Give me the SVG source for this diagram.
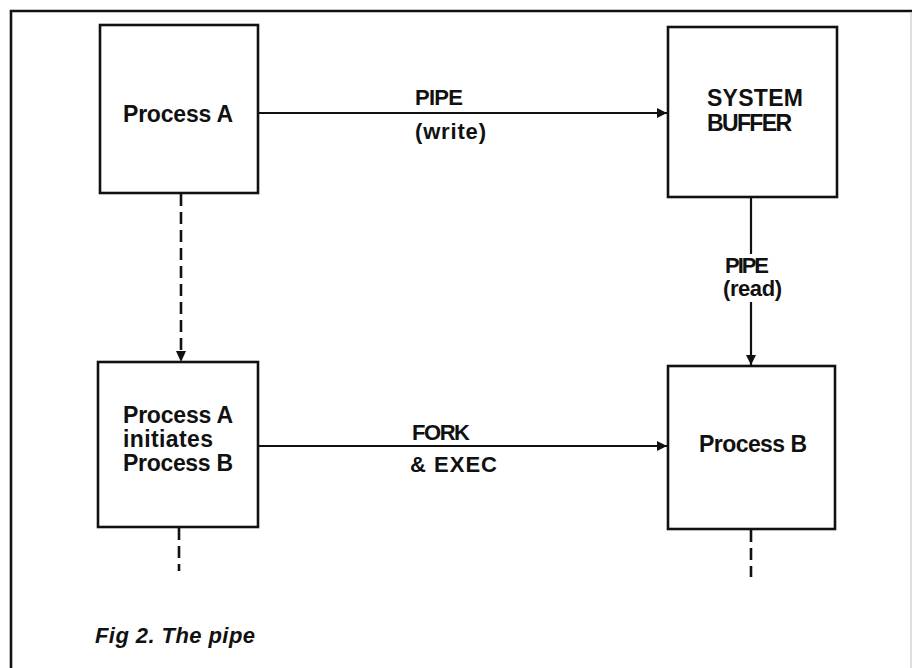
<svg xmlns="http://www.w3.org/2000/svg" width="913" height="668" viewBox="0 0 913 668">
<defs>
<style>
.box{fill:#fff;stroke:#111;stroke-width:2.6}
.frame{fill:none;stroke:#111;stroke-width:2.6}
.conn{fill:none;stroke:#111;stroke-width:2.2}
.dash{fill:none;stroke:#111;stroke-width:2.6;stroke-dasharray:12 6}
.node{font-family:"Liberation Sans",Arial,sans-serif;font-weight:bold;font-size:23px;fill:#111}
.lbl{font-family:"Liberation Sans",Arial,sans-serif;font-weight:bold;font-size:22px;fill:#111}
.cap{font-family:"Liberation Sans",Arial,sans-serif;font-weight:bold;font-style:italic;font-size:22px;fill:#111}
</style>
<marker id="arr" viewBox="0 0 10 10" refX="10" refY="5" markerWidth="11" markerHeight="10" markerUnits="userSpaceOnUse" orient="auto">
<path d="M0,0 L10,5 L0,10 z" fill="#111"/>
</marker>
</defs>
<rect width="913" height="668" fill="#fff"/>
<g id="frame">
<path class="frame" d="M11,668 V11 H912"/>
<path d="M911,12 V668" fill="none" stroke="#bbb" stroke-width="1"/>
</g>
<g id="connectors">
<line class="conn" x1="258" y1="113" x2="667" y2="113" marker-end="url(#arr)"/>
<line class="conn" x1="751" y1="197" x2="751" y2="254"/>
<line class="conn" x1="751" y1="302" x2="751" y2="365" marker-end="url(#arr)"/>
<line class="conn" x1="258" y1="446" x2="667" y2="446" marker-end="url(#arr)"/>
<line class="dash" x1="181" y1="194" x2="181" y2="352"/>
<path d="M176,351 L186,351 L181,362 z" fill="#111"/>
<line class="dash" x1="179" y1="528" x2="179" y2="571"/>
<line class="dash" x1="751" y1="530" x2="751" y2="577"/>
<text class="lbl" x="415" y="105" textLength="48">PIPE</text>
<text class="lbl" x="415" y="139" textLength="71">(write)</text>
<text class="lbl" x="725" y="273" textLength="44">PIPE</text>
<text class="lbl" x="723" y="296" textLength="59">(read)</text>
<text class="lbl" x="412" y="440" textLength="58">FORK</text>
<text class="lbl" x="410" y="472" textLength="87">&amp; EXEC</text>
</g>
<g id="processA">
<rect class="box" x="100" y="25" width="158" height="168"/>
<text class="node" x="123" y="122" textLength="110">Process A</text>
</g>
<g id="systemBuffer">
<rect class="box" x="668" y="27" width="169" height="170"/>
<text class="node" x="707" y="106" textLength="96">SYSTEM</text>
<text class="node" x="707" y="131" textLength="85">BUFFER</text>
</g>
<g id="processAinit">
<rect class="box" x="98" y="362" width="160" height="165"/>
<text class="node" x="123" y="423" textLength="110">Process A</text>
<text class="node" x="123" y="447" textLength="90">initiates</text>
<text class="node" x="123" y="471" textLength="110">Process B</text>
</g>
<g id="processB">
<rect class="box" x="668" y="366" width="167" height="163"/>
<text class="node" x="699" y="452" textLength="108">Process B</text>
</g>
<g id="caption">
<text class="cap" x="95" y="643" textLength="160">Fig 2. The pipe</text>
</g>
</svg>
